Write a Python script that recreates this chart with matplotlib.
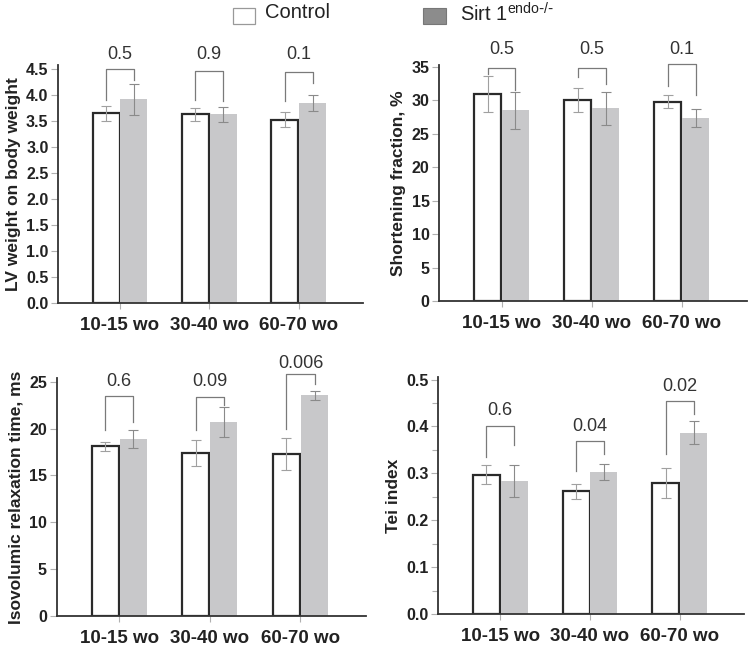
import matplotlib
matplotlib.use("Agg")
import matplotlib.pyplot as plt
import numpy as np

plt.rcParams['font.family'] = ['Liberation Sans', 'DejaVu Sans']

groups = ["10-15 wo", "30-40 wo", "60-70 wo"]

# Panel 1: LV weight on body weight
lv_ctrl = [3.65, 3.63, 3.53]
lv_ctrl_err = [0.14, 0.12, 0.14]
lv_sirt = [3.92, 3.63, 3.85]
lv_sirt_err = [0.30, 0.15, 0.15]
lv_p = ["0.5", "0.9", "0.1"]

# Panel 2: Shortening fraction
sf_ctrl = [30.9, 30.0, 29.8]
sf_ctrl_err = [2.7, 1.8, 1.0]
sf_sirt = [28.5, 28.8, 27.4]
sf_sirt_err = [2.8, 2.5, 1.3]
sf_p = ["0.5", "0.5", "0.1"]

# Panel 3: Isovolumic relaxation time
ivrt_ctrl = [18.1, 17.4, 17.3]
ivrt_ctrl_err = [0.45, 1.4, 1.7]
ivrt_sirt = [18.9, 20.7, 23.55]
ivrt_sirt_err = [0.95, 1.6, 0.5]
ivrt_p = ["0.6", "0.09", "0.006"]

# Panel 4: Tei index
tei_ctrl = [0.297, 0.262, 0.280]
tei_ctrl_err = [0.020, 0.016, 0.032]
tei_sirt = [0.283, 0.304, 0.387]
tei_sirt_err = [0.034, 0.017, 0.025]
tei_p = ["0.6", "0.04", "0.02"]

W, H = 749, 648
fig = plt.figure(figsize=(W / 100, H / 100), dpi=100)

def pos(l, r, b, t):
    return [l / W, 1 - b / H, (r - l) / W, (b - t) / H]

panels = [
    dict(rect=pos(58.3, 363, 303.3, 65), ctrl=lv_ctrl, ce=lv_ctrl_err, sirt=lv_sirt, se=lv_sirt_err,
         p=lv_p, ylim=4.58, yticks=np.arange(0, 4.51, 0.5), fmt="%.1f", minor=None,
         ylabel="LV weight on body weight",
         br=[(4.5, 3.9, 4.3, 4.78), (4.47, 3.91, 3.89, 4.78), (4.45, 3.88, 4.23, 4.78)]),
    dict(rect=pos(439.3, 746.7, 301, 65), ctrl=sf_ctrl, ce=sf_ctrl_err, sirt=sf_sirt, se=sf_sirt_err,
         p=sf_p, ylim=35.3, yticks=np.arange(0, 36, 5), fmt="%d", minor=None,
         ylabel="Shortening fraction, %",
         br=[(34.9, 34.0, 31.5, 37.6), (34.8, 33.5, 32.5, 37.6), (35.5, 32.2, 30.8, 37.6)]),
    dict(rect=pos(56.7, 365.7, 616, 378.3), ctrl=ivrt_ctrl, ce=ivrt_ctrl_err, sirt=ivrt_sirt, se=ivrt_sirt_err,
         p=ivrt_p, ylim=25.37, yticks=np.arange(0, 26, 5), fmt="%d", minor=None,
         ylabel="Isovolumic relaxation time, ms",
         br=[(23.5, 19.85, 20.7, 25.0), (23.4, 19.85, 22.5, 25.0), (25.8, 20.0, 24.8, 27.0)]),
    dict(rect=pos(438.3, 744.3, 614.3, 376.7), ctrl=tei_ctrl, ce=tei_ctrl_err, sirt=tei_sirt, se=tei_sirt_err,
         p=tei_p, ylim=0.506, yticks=np.arange(0, 0.51, 0.1), fmt="%.1f", minor=np.arange(0.05, 0.5, 0.1),
         ylabel="Tei index",
         br=[(0.402, 0.335, 0.36, 0.433), (0.369, 0.305, 0.342, 0.40), (0.454, 0.341, 0.426, 0.486)]),
]

x = np.arange(len(groups))
bw = 0.30
dark = "#2a2a2a"
for pn in panels:
    ax = fig.add_axes(pn["rect"])
    ax.bar(x - bw / 2 - 0.005, pn["ctrl"], bw, color="white", edgecolor=dark, linewidth=1.6, zorder=2)
    ax.bar(x + bw / 2 + 0.005, pn["sirt"], bw, color="#c8c8ca", edgecolor="none", zorder=2)
    ax.errorbar(x - bw / 2 - 0.005, pn["ctrl"], yerr=pn["ce"], fmt="none", ecolor="#a0a0a0",
                elinewidth=0.8, capsize=3.6, capthick=0.8, zorder=3)
    ax.errorbar(x + bw / 2 + 0.005, pn["sirt"], yerr=pn["se"], fmt="none", ecolor="#8a8a8a",
                elinewidth=0.8, capsize=3.6, capthick=0.8, zorder=3)
    for i, (top, lft, rgt, ty) in enumerate(pn["br"]):
        xl = x[i] - bw / 2 - 0.005
        xr = x[i] + bw / 2 + 0.005
        ax.plot([xl, xl, xr, xr], [lft, top, top, rgt], color="#7a7a7a", lw=0.9,
                clip_on=False, zorder=4)
        ax.text(x[i], ty, pn["p"][i], ha="center", va="center", fontsize=13,
                color="#333333", clip_on=False)
    ax.set_xlim(-0.69, 2.72)
    ax.set_ylim(0, pn["ylim"])
    ax.set_yticks(pn["yticks"])
    ax.set_yticklabels([pn["fmt"] % v for v in pn["yticks"]], fontsize=11.5, fontweight="bold",
                       color="#222222")
    if pn["minor"] is not None:
        ax.set_yticks(pn["minor"], minor=True)
        ax.tick_params(axis="y", which="minor", length=4, width=0.8, color="#b0b0b0")
    ax.set_xticks(x)
    ax.set_xticklabels(groups, fontsize=13.5, fontweight="bold", color="#222222")
    ax.tick_params(axis="y", which="major", length=5, width=0.8, color="#b0b0b0", pad=2)
    ax.tick_params(axis="x", length=4, width=0.8, color="#b0b0b0", pad=6)
    ax.set_ylabel(pn["ylabel"], fontsize=12.5, fontweight="bold", color="#222222", labelpad=4)
    for s in ["top", "right"]:
        ax.spines[s].set_visible(False)
    for s in ["left", "bottom"]:
        ax.spines[s].set_color("#333333")
        ax.spines[s].set_linewidth(1.3)

# Legend
fig.patches.append(plt.Rectangle((233.3 / W, 1 - 24.3 / H), 21.7 / W, 16 / H, facecolor="white",
                                 edgecolor="#999999", linewidth=0.9, transform=fig.transFigure))
fig.text(265 / W, 1 - 13 / H, "Control", fontsize=14.5, va="center", ha="left", color="#222222")
fig.patches.append(plt.Rectangle((423.3 / W, 1 - 24.3 / H), 22.4 / W, 16 / H, facecolor="#8c8c8c",
                                 edgecolor="#777777", linewidth=0.8, transform=fig.transFigure))
fig.text(460 / W, 1 - 14 / H, "Sirt 1$^{\\mathregular{endo\\text{-}/\\text{-}}}$", fontsize=14.5,
         va="center", ha="left", color="#222222")

fig.savefig("out.png", dpi=100)
